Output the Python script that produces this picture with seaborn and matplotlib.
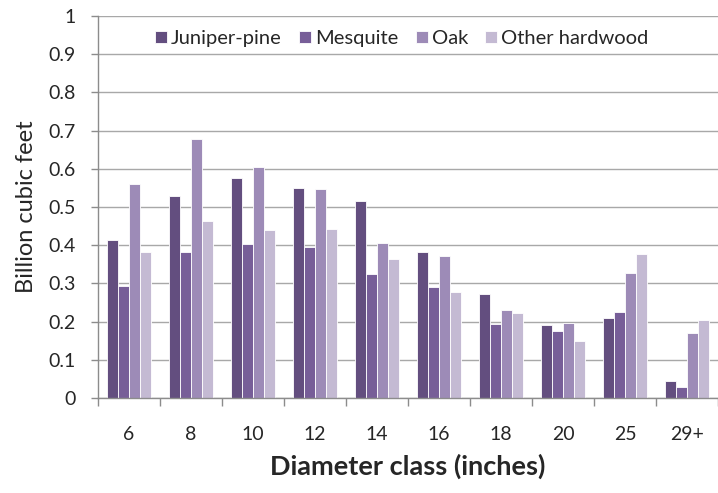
import pandas as pd
import numpy as np
import matplotlib
matplotlib.use("Agg")
import matplotlib.pyplot as plt
import seaborn as sns

sns.set_style("white")
plt.rcParams['font.family'] = ['Lato', 'DejaVu Sans']

# data
diameter = ['6', '8', '10', '12', '14', '16', '18', '20', '25', '29+']
juniper_pine = [0.413, 0.529, 0.576, 0.551, 0.517, 0.382, 0.273, 0.190, 0.210, 0.045]
mesquite = [0.292, 0.382, 0.402, 0.395, 0.325, 0.291, 0.193, 0.175, 0.226, 0.029]
oak = [0.561, 0.679, 0.605, 0.548, 0.406, 0.373, 0.231, 0.197, 0.328, 0.171]
other_hardwood = [0.382, 0.464, 0.440, 0.443, 0.364, 0.277, 0.223, 0.150, 0.377, 0.204]

groups = ['Juniper-pine', 'Mesquite', 'Oak', 'Other hardwood']
colors = ['#634e7f', '#775e98', '#9d8bb7', '#c4bad3']

df = pd.DataFrame({'Diameter': diameter * 4,
                   'Group': np.repeat(groups, len(diameter)),
                   'Volume': juniper_pine + mesquite + oak + other_hardwood})

fig = plt.figure(figsize=(7.18, 4.93), dpi=100)
ax = fig.add_axes([0.1365, 0.1927, 0.8635, 0.7748])

sns.barplot(data=df, x='Diameter', y='Volume', hue='Group', order=diameter,
            hue_order=groups, palette=colors, width=0.725, saturation=1,
            edgecolor='white', linewidth=0.6, ax=ax)

ax.set_ylim(0, 1)
ax.set_xlim(-0.5, len(diameter) - 0.5)
ax.set_yticks(np.arange(0, 1.01, 0.1))
ax.set_yticklabels(['0'] + ['%.1f' % v for v in np.arange(0.1, 0.95, 0.1)] + ['1'])
ax.yaxis.grid(True, color='#a8a8a8', linewidth=1)
ax.set_axisbelow(True)

# boundary ticks between categories
ax.set_xticks(np.arange(-0.5, len(diameter), 1), minor=True)
ax.tick_params(axis='x', which='minor', length=6, width=1, color='#8c8c8c', direction='out', bottom=True)
ax.tick_params(axis='x', which='major', length=0, pad=20, labelsize=14)
ax.tick_params(axis='y', length=5, width=1, color='#8c8c8c', direction='out', left=True, labelsize=14, pad=11)

for s in ['top', 'right']:
    ax.spines[s].set_visible(False)
for s in ['left', 'bottom']:
    ax.spines[s].set_color('#8c8c8c')
    ax.spines[s].set_linewidth(1)

ax.set_xlabel('Diameter class (inches)', fontsize=19.5, fontweight='bold', labelpad=8)
ax.set_ylabel('Billion cubic feet', fontsize=17, labelpad=8)

ax.legend(loc='center', bbox_to_anchor=(0.49, 0.941), ncol=4, frameon=False,
          fontsize=14.5, handlelength=0.6, handleheight=0.6, handletextpad=0.2,
          columnspacing=0.85)

fig.savefig('out.png', dpi=100)
